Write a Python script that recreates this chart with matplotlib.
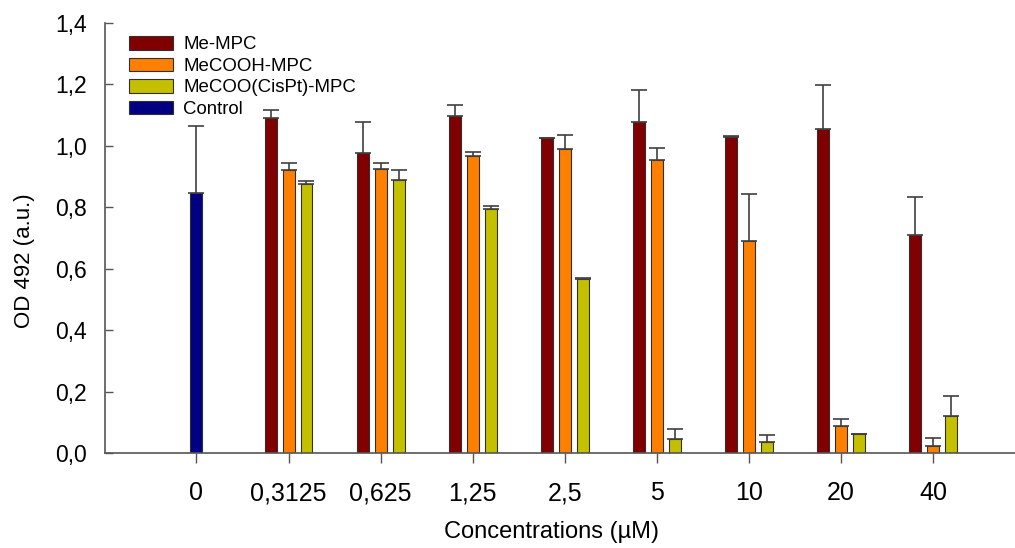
import matplotlib
matplotlib.use("Agg")
import matplotlib.pyplot as plt
import numpy as np

plt.rcParams['font.family'] = ['Liberation Sans', 'DejaVu Sans']

concentrations = ["0", "0,3125", "0,625", "1,25", "2,5", "5", "10", "20", "40"]

series_names = ["Me-MPC", "MeCOOH-MPC", "MeCOO(CisPt)-MPC", "Control"]
series_colors = ["#800000", "#ff8000", "#c4c000", "#000080"]

# Mean OD values per treated concentration (0,3125 ... 40 µM)
me_mpc = [1.090, 0.975, 1.097, 1.026, 1.078, 1.029, 1.055, 0.710]
me_mpc_err = [0.027, 0.101, 0.035, 0.0, 0.104, 0.002, 0.144, 0.123]

mecooh_mpc = [0.921, 0.924, 0.967, 0.988, 0.952, 0.691, 0.090, 0.024]
mecooh_mpc_err = [0.023, 0.021, 0.012, 0.047, 0.040, 0.152, 0.020, 0.025]

mecoo_cispt_mpc = [0.876, 0.887, 0.794, 0.566, 0.046, 0.038, 0.064, 0.120]
mecoo_cispt_mpc_err = [0.009, 0.035, 0.009, 0.004, 0.034, 0.020, 0.0, 0.065]

control = [0.846]
control_err = [0.218]

fig = plt.figure(figsize=(10.15, 5.48), dpi=100)
ax = fig.add_axes([0.1034, 0.1728, 0.8966, 0.7858])

bar_w = 0.13
step = 0.195
x_treat = np.arange(1, len(concentrations))
err_kw = dict(ecolor="#404040", elinewidth=1.2, capsize=6, capthick=1.2)
edge = dict(edgecolor="#303030", linewidth=0.8)

groups = [(me_mpc, me_mpc_err), (mecooh_mpc, mecooh_mpc_err),
          (mecoo_cispt_mpc, mecoo_cispt_mpc_err)]
handles = []
for i, (vals, errs) in enumerate(groups):
    b = ax.bar(x_treat + (i - 1) * step, vals, bar_w, color=series_colors[i],
               yerr=[np.zeros(len(errs)), errs], error_kw=err_kw,
               label=series_names[i], zorder=2, **edge)
    handles.append(b)
b = ax.bar([0], control, bar_w, color=series_colors[3],
           yerr=[[0], control_err], error_kw=err_kw,
           label=series_names[3], zorder=2, **edge)
handles.append(b)

ax.set_xlim(-0.994, 8.89)
ax.set_ylim(0, 1.4)
ax.set_xticks(np.arange(len(concentrations)))
ax.set_xticklabels(concentrations, fontsize=18)
yt = np.arange(0, 1.41, 0.2)
ax.set_yticks(yt)
ax.set_yticklabels([f"{v:.1f}".replace(".", ",") for v in yt], fontsize=16.5)

for s in ["top", "right"]:
    ax.spines[s].set_visible(False)
for s in ["left", "bottom"]:
    ax.spines[s].set_color("#555555")
    ax.spines[s].set_linewidth(1.2)

ax.tick_params(axis="y", direction="in", length=6, width=1, color="#555555", pad=13)
ax.tick_params(axis="x", direction="out", length=7, width=1, color="#555555", pad=13)

ax.set_ylabel("OD 492 (a.u.)", fontsize=16)
ax.yaxis.set_label_coords(-0.077, 0.447)
ax.set_xlabel("Concentrations (µM)", fontsize=17)
ax.xaxis.set_label_coords(0.4907, -0.158)

leg = ax.legend(handles=handles, loc="upper left", bbox_to_anchor=(0.0264, 0.969),
                frameon=False, fontsize=13.4, handlelength=2.37, handleheight=0.75,
                labelspacing=0.225, handletextpad=0.54, borderaxespad=0, borderpad=0)

fig.savefig("out.png", dpi=100)
